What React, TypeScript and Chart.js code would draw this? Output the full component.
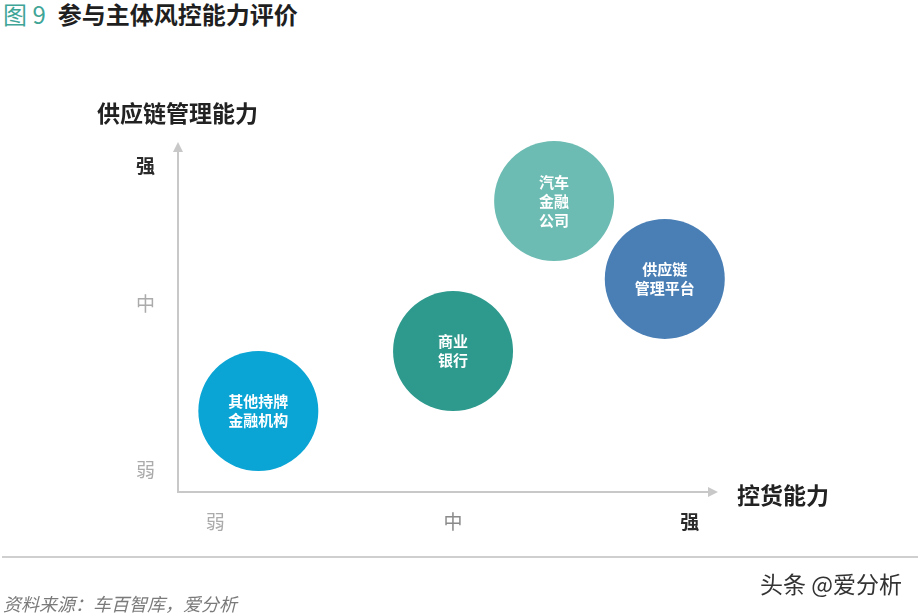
import { useEffect, useRef } from 'react';
import { Chart, registerables } from 'chart.js';

Chart.register(...registerables);

const FONT = '"Noto Sans CJK SC", "Noto Sans", sans-serif';

// 相对刻度 0-10：横轴 控货能力，纵轴 供应链管理能力
const levelLabels = ['弱', '中', '强'];
const xLevelValues = [0.7, 5.17, 9.62];
const yLevelValues = [0.64, 5.5, 9.53];

const entityNames = [
  ['其他持牌', '金融机构'],
  ['商业', '银行'],
  ['汽车', '金融', '公司'],
  ['供应链', '管理平台'],
];
const goodsControl = [1.51, 5.17, 7.07, 9.15];
const supplyChain = [2.37, 4.12, 8.51, 6.23];
const bubbleRadius = [60, 60, 60, 60];
const bubbleColors = ['#0aa5d5', '#2e9a8e', '#6dbcb3', '#4a7fb6'];

const AXIS_COLOR = '#c8c8c8';

const decorPlugin = {
  id: 'decor',
  afterDraw(chart: Chart) {
    const { ctx } = chart;
    const { left, right, top, bottom } = chart.chartArea;
    ctx.save();

    // arrow heads
    ctx.fillStyle = AXIS_COLOR;
    ctx.beginPath();
    ctx.moveTo(left, top - 8);
    ctx.lineTo(left - 5, top + 2);
    ctx.lineTo(left + 5, top + 2);
    ctx.closePath();
    ctx.fill();
    ctx.beginPath();
    ctx.moveTo(right + 8, bottom);
    ctx.lineTo(right - 2, bottom - 5);
    ctx.lineTo(right - 2, bottom + 5);
    ctx.closePath();
    ctx.fill();

    // axis titles
    ctx.fillStyle = '#222';
    ctx.font = `bold 23px ${FONT}`;
    ctx.textAlign = 'left';
    ctx.textBaseline = 'middle';
    ctx.fillText('供应链管理能力', left - 81, top - 37);
    ctx.fillText('控货能力', right + 27, bottom + 3);

    // bubble labels
    const meta = chart.getDatasetMeta(0);
    ctx.fillStyle = '#ffffff';
    ctx.font = `bold 15px ${FONT}`;
    ctx.textAlign = 'center';
    meta.data.forEach((pt, i) => {
      const lines = entityNames[i];
      const lh = 19;
      const y0 = pt.y - ((lines.length - 1) * lh) / 2;
      lines.forEach((line, j) => ctx.fillText(line, pt.x, y0 + j * lh));
    });
    ctx.restore();
  },
};

function levelColor(index: number, axis: 'x' | 'y') {
  if (index === 2) return '#2a2a2a';
  if (axis === 'x' && index === 1) return '#8a8a8a';
  return '#ababab';
}

export default function App() {
  const canvasRef = useRef<HTMLCanvasElement>(null);
  const chartRef = useRef<Chart | null>(null);

  useEffect(() => {
    document.body.style.margin = '0';
    if (!canvasRef.current) return;
    if (chartRef.current) chartRef.current.destroy();

    const points = goodsControl.map((x, i) => ({ x, y: supplyChain[i], r: bubbleRadius[i] }));

    chartRef.current = new Chart(canvasRef.current, {
      type: 'bubble',
      data: {
        datasets: [
          {
            data: points,
            backgroundColor: bubbleColors,
            hoverBackgroundColor: bubbleColors,
            borderWidth: 0,
            hoverBorderWidth: 0,
            clip: false,
          },
        ],
      },
      options: {
        responsive: true,
        maintainAspectRatio: false,
        animation: false,
        events: [],
        layout: { padding: { left: 118, right: 212, top: 150, bottom: 74 } },
        plugins: {
          legend: { display: false },
          tooltip: { enabled: false },
          title: { display: false },
        },
        scales: {
          x: {
            type: 'linear',
            min: 0,
            max: 10,
            grid: { display: false, drawTicks: false },
            border: { display: true, color: AXIS_COLOR, width: 2 },
            afterBuildTicks: (scale) => {
              scale.ticks = xLevelValues.map((value) => ({ value }));
            },
            afterFit: (scale) => {
              scale.height = 50;
            },
            ticks: {
              padding: 18,
              maxRotation: 0,
              autoSkip: false,
              callback: (_v, index) => levelLabels[index],
              color: (c) => levelColor(c.index, 'x'),
              font: (c) => ({ family: FONT, size: 19, weight: c.index === 2 ? 'bold' : 'normal' }),
            },
          },
          y: {
            type: 'linear',
            min: 0,
            max: 10,
            grid: { display: false, drawTicks: false },
            border: { display: true, color: AXIS_COLOR, width: 2 },
            afterBuildTicks: (scale) => {
              scale.ticks = yLevelValues.map((value) => ({ value }));
            },
            afterFit: (scale) => {
              scale.width = 60;
            },
            ticks: {
              padding: 23,
              autoSkip: false,
              callback: (_v, index) => levelLabels[index],
              color: (c) => levelColor(c.index, 'y'),
              font: (c) => ({ family: FONT, size: 19, weight: c.index === 2 ? 'bold' : 'normal' }),
            },
          },
        },
      },
      plugins: [decorPlugin],
    });

    return () => {
      if (chartRef.current) {
        chartRef.current.destroy();
        chartRef.current = null;
      }
    };
  }, []);

  return (
    <div style={{ position: 'relative', width: 922, height: 616, background: '#fff', overflow: 'hidden', fontFamily: FONT }}>
      <div style={{ position: 'absolute', left: 3, top: 0, height: 28, lineHeight: '28px', fontSize: 24, whiteSpace: 'nowrap' }}>
        <span style={{ color: '#3fa597' }}>图 9</span>
        <span style={{ color: '#1f1f1f', fontWeight: 'bold', marginLeft: 12 }}>参与主体风控能力评价</span>
      </div>
      <div style={{ position: 'absolute', inset: 0 }}>
        <canvas ref={canvasRef} />
      </div>
      <div style={{ position: 'absolute', left: 2, top: 556, width: 916, height: 2, background: '#cfcfcf' }} />
      <div style={{ position: 'absolute', left: 760, top: 568, fontSize: 23, lineHeight: '30px', color: '#333', whiteSpace: 'nowrap' }}>
        头条 @爱分析
      </div>
      <div style={{ position: 'absolute', left: 3, top: 590, fontSize: 18, lineHeight: '26px', color: '#7a7a7a', fontStyle: 'italic', whiteSpace: 'nowrap' }}>
        资料来源：车百智库，爱分析
      </div>
    </div>
  );
}
